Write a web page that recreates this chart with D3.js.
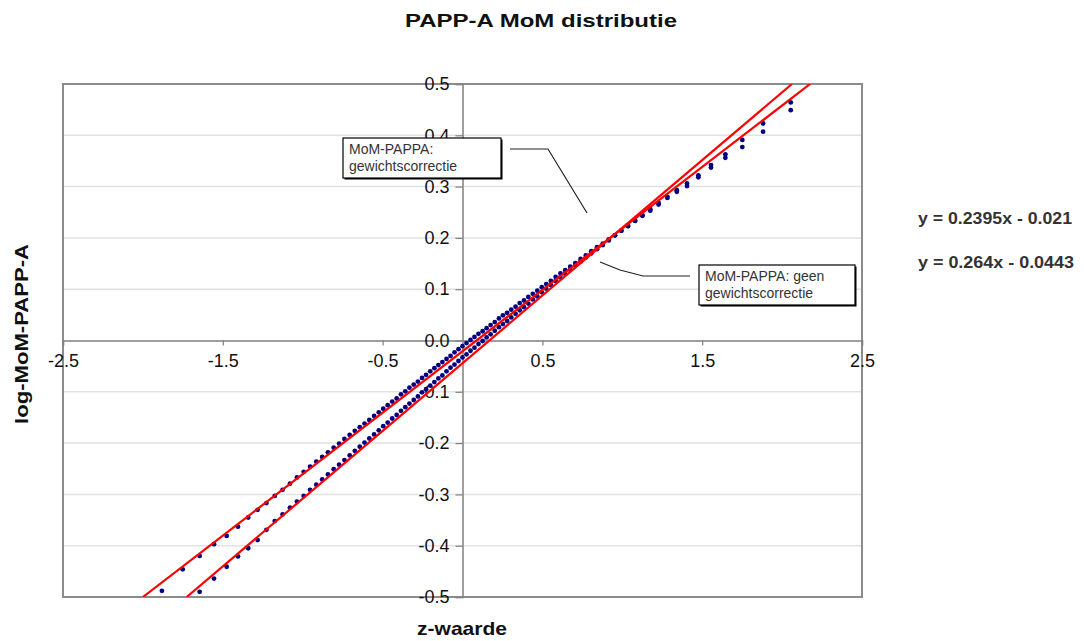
<!DOCTYPE html>
<html>
<head>
<meta charset="utf-8">
<script src="https://cdn.jsdelivr.net/npm/d3@7"></script>
<style>
  html, body { margin: 0; padding: 0; background: #fff; }
  svg { display: block; font-family: "Liberation Sans", Arial, sans-serif; }
</style>
</head>
<body>
<svg id="chart" width="1084" height="641"></svg>
<script>
// ---------- data ----------
const title = "PAPP-A MoM distributie";
const xTitle = "z-waarde";
const yTitle = "log-MoM-PAPP-A";
const xTicks = [-2.5, -1.5, -0.5, 0.5, 1.5, 2.5];
const yTicks = [-0.5, -0.4, -0.3, -0.2, -0.1, 0.0, 0.1, 0.2, 0.3, 0.4, 0.5];

// z-values (normal quantiles) shared by both series
const zValues = [-1.881,-1.751,-1.645,-1.555,-1.476,-1.405,-1.341,-1.282,-1.227,-1.175,
  -1.126,-1.080,-1.036,-0.994,-0.954,-0.915,-0.878,-0.842,-0.806,-0.772,
  -0.739,-0.706,-0.674,-0.643,-0.613,-0.583,-0.553,-0.524,-0.496,-0.468,
  -0.440,-0.412,-0.385,-0.358,-0.332,-0.305,-0.279,-0.253,-0.228,-0.202,
  -0.176,-0.151,-0.126,-0.100,-0.075,-0.050,-0.025,0.000,0.025,0.050,
  0.075,0.100,0.126,0.151,0.176,0.202,0.228,0.253,0.279,0.305,
  0.332,0.358,0.385,0.412,0.440,0.468,0.496,0.524,0.553,0.583,
  0.613,0.643,0.674,0.706,0.739,0.772,0.806,0.842,0.878,0.915,
  0.954,0.994,1.036,1.080,1.126,1.175,1.227,1.282,1.341,1.405,
  1.476,1.555,1.645,1.751,1.881,2.054];

// log-MoM values with weight correction
const withCorrection = [-0.488,-0.446,-0.420,-0.397,-0.381,-0.363,-0.345,-0.330,-0.317,-0.303,
  -0.291,-0.279,-0.267,-0.256,-0.246,-0.236,-0.227,-0.218,-0.209,-0.201,
  -0.192,-0.184,-0.176,-0.169,-0.162,-0.155,-0.147,-0.140,-0.133,-0.126,
  -0.119,-0.113,-0.105,-0.099,-0.092,-0.086,-0.080,-0.073,-0.067,-0.060,
  -0.054,-0.048,-0.042,-0.036,-0.030,-0.023,-0.017,-0.011,-0.005,0.001,
  0.007,0.013,0.018,0.024,0.030,0.036,0.043,0.049,0.054,0.060,
  0.066,0.073,0.078,0.085,0.091,0.097,0.104,0.110,0.116,0.124,
  0.131,0.137,0.144,0.151,0.159,0.166,0.174,0.182,0.189,0.197,
  0.205,0.214,0.223,0.233,0.243,0.253,0.265,0.278,0.290,0.301,
  0.318,0.337,0.356,0.377,0.407,0.449];

// log-MoM values without weight correction (first two fall below the axis range)
const noCorrection = [null,null,-0.490,-0.464,-0.441,-0.421,-0.405,-0.389,-0.369,-0.352,
  -0.339,-0.326,-0.314,-0.303,-0.291,-0.281,-0.271,-0.261,-0.251,-0.242,
  -0.233,-0.224,-0.215,-0.207,-0.199,-0.191,-0.183,-0.175,-0.167,-0.160,
  -0.152,-0.145,-0.137,-0.130,-0.123,-0.116,-0.109,-0.101,-0.095,-0.088,
  -0.081,-0.074,-0.068,-0.060,-0.053,-0.047,-0.040,-0.033,-0.027,-0.020,
  -0.014,-0.007,-0.001,0.006,0.012,0.019,0.026,0.032,0.038,0.045,
  0.052,0.059,0.065,0.072,0.080,0.086,0.094,0.101,0.108,0.116,
  0.123,0.130,0.138,0.146,0.154,0.162,0.170,0.178,0.186,0.195,
  0.205,0.214,0.223,0.234,0.244,0.256,0.268,0.280,0.293,0.306,
  0.322,0.342,0.363,0.391,0.423,0.464];

// trendlines: [slope, intercept]
const trendWith = [0.2395, -0.021];
const trendWithout = [0.264, -0.0443];
const equations = ["y = 0.2395x - 0.021", "y = 0.264x - 0.0443"];
const labelWith = ["MoM-PAPPA:", "gewichtscorrectie"];
const labelWithout = ["MoM-PAPPA: geen", "gewichtscorrectie"];

// ---------- drawing ----------
const svg = d3.select("#chart");
const x = d3.scaleLinear().domain([-2.5, 2.5]).range([63, 862]);
const y = d3.scaleLinear().domain([-0.5, 0.5]).range([597, 84]);
const fmt = d => d3.format(".1f")(d).replace("\u2212", "-");

svg.append("defs").append("clipPath").attr("id", "plotclip")
  .append("rect").attr("x", x(-2.5)).attr("y", y(0.5))
  .attr("width", x(2.5) - x(-2.5)).attr("height", y(-0.5) - y(0.5));

// gridlines
svg.append("g").selectAll("line").data(yTicks.filter(d => Math.abs(d) > 1e-9 && Math.abs(d) < 0.5))
  .join("line")
  .attr("x1", x(-2.5)).attr("x2", x(2.5))
  .attr("y1", d => y(d)).attr("y2", d => y(d))
  .attr("stroke", "#e2e2e2").attr("stroke-width", 1.5);

// plot border
svg.append("rect")
  .attr("x", x(-2.5)).attr("y", y(0.5))
  .attr("width", x(2.5) - x(-2.5)).attr("height", y(-0.5) - y(0.5))
  .attr("fill", "none").attr("stroke", "#8c8c8c").attr("stroke-width", 2);

// axes through origin
const xAxis = d3.axisBottom(x).tickValues(xTicks).tickSize(5).tickFormat(fmt);
const gx = svg.append("g").attr("transform", `translate(0,${y(0)})`).call(xAxis);
gx.select(".domain").attr("stroke", "#808080").attr("stroke-width", 1.5);
gx.selectAll(".tick line").attr("stroke", "#808080").attr("stroke-width", 1.2);
gx.selectAll(".tick text").attr("font-size", 18).attr("fill", "#111").attr("dy", "1.05em")
  .attr("font-family", "'Liberation Sans', Arial, sans-serif");

const yAxis = d3.axisLeft(y).tickValues(yTicks).tickSize(7).tickPadding(6).tickFormat(fmt);
const gy = svg.append("g").attr("transform", `translate(${x(0)},0)`).call(yAxis);
gy.select(".domain").attr("stroke", "#808080").attr("stroke-width", 1.5);
gy.selectAll(".tick line").attr("stroke", "#808080").attr("stroke-width", 1.2);
gy.selectAll(".tick text").attr("font-size", 18).attr("fill", "#111")
  .attr("font-family", "'Liberation Sans', Arial, sans-serif");

// points
const plot = svg.append("g").attr("clip-path", "url(#plotclip)");
function drawPoints(vals) {
  const pts = zValues.map((z, i) => ({ z, v: vals[i] })).filter(d => d.v !== null);
  plot.append("g").selectAll("circle").data(pts).join("circle")
    .attr("cx", d => x(d.z)).attr("cy", d => y(d.v)).attr("r", 2.4)
    .attr("fill", "#000080");
}
drawPoints(withCorrection);
drawPoints(noCorrection);

// trendlines
[trendWith, trendWithout].forEach(([m, b]) => {
  const z0 = (-0.5 - b) / m, z1 = (0.5 - b) / m;
  plot.append("line")
    .attr("x1", x(z0)).attr("y1", y(m * z0 + b))
    .attr("x2", x(z1)).attr("y2", y(m * z1 + b))
    .attr("stroke", "#ff0000").attr("stroke-width", 2.2);
});

// titles
svg.append("text").attr("x", 541).attr("y", 27).attr("text-anchor", "middle")
  .attr("font-size", 19).attr("font-weight", "bold").attr("fill", "#111")
  .attr("textLength", 272).attr("lengthAdjust", "spacingAndGlyphs").text(title);
svg.append("text").attr("x", 462).attr("y", 635).attr("text-anchor", "middle")
  .attr("font-size", 19).attr("font-weight", "bold").attr("fill", "#111")
  .attr("textLength", 90).attr("lengthAdjust", "spacingAndGlyphs").text(xTitle);
svg.append("text").attr("transform", "translate(28,334) rotate(-90)").attr("text-anchor", "middle")
  .attr("font-size", 19).attr("font-weight", "bold").attr("fill", "#111")
  .attr("textLength", 180).attr("lengthAdjust", "spacingAndGlyphs").text(yTitle);

// equations
equations.forEach((t, i) => {
  svg.append("text").attr("x", 918).attr("y", 224 + i * 44)
    .attr("font-size", 16).attr("font-weight", "bold").attr("fill", "#333")
    .attr("textLength", i === 0 ? 154 : 156).attr("lengthAdjust", "spacingAndGlyphs").text(t);
});

// annotation boxes with leader lines
function annot(bx, by, bw, bh, lines, leader) {
  svg.append("path").attr("d", d3.line().curve(d3.curveLinear)(leader))
    .attr("fill", "none").attr("stroke", "#222").attr("stroke-width", 1.2);
  svg.append("rect").attr("x", bx + 1.5).attr("y", by + 1.5).attr("width", bw).attr("height", bh)
    .attr("fill", "#000");
  svg.append("rect").attr("x", bx).attr("y", by).attr("width", bw).attr("height", bh)
    .attr("fill", "#fff").attr("stroke", "#000").attr("stroke-width", 1.2);
  lines.forEach((t, i) => {
    svg.append("text").attr("x", bx + 6).attr("y", by + 16 + i * 17)
      .attr("font-size", 14).attr("fill", "#333").text(t);
  });
}
annot(343, 138, 158, 40, labelWith, [[510, 149], [548, 149], [587, 213]]);
annot(699, 265, 156, 40, labelWithout, [[690, 276], [643, 276], [620, 270], [600, 262]]);
</script>
</body>
</html>
